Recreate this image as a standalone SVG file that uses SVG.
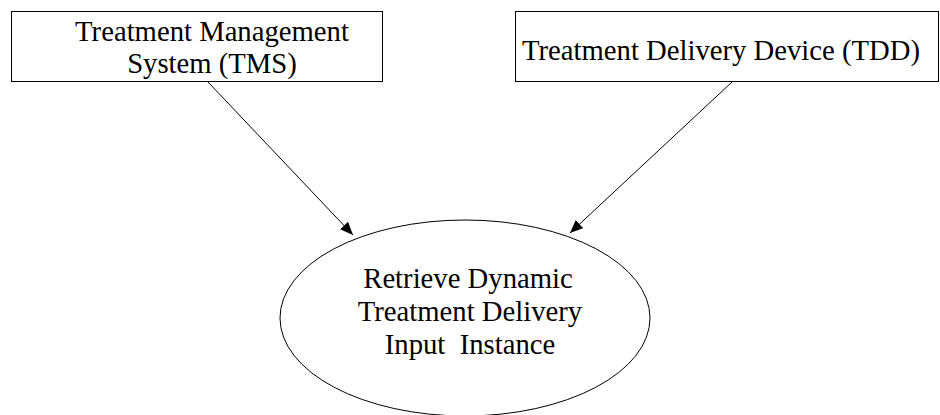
<svg xmlns="http://www.w3.org/2000/svg" width="940" height="415" viewBox="0 0 940 415">
<defs>
<style>
.box{fill:#fff;stroke:#000;stroke-width:1}
.t{font-family:"Liberation Serif","Times New Roman",serif;font-size:28.7px;fill:#000;white-space:pre}
.c{fill:none;stroke:#000;stroke-width:1}
</style>
<marker id="ah" viewBox="0 0 13 11" refX="13" refY="5.5" markerWidth="13" markerHeight="11" markerUnits="userSpaceOnUse" orient="auto">
<path d="M0,0 L13,5.5 L0,11 z" fill="#000"/>
</marker>
</defs>
<rect width="940" height="415" fill="#fff"/>
<g id="tms">
<rect class="box" x="11.5" y="11.5" width="371" height="70"/>
<text class="t" x="212" y="41" text-anchor="middle">Treatment Management</text>
<text class="t" x="212" y="73" text-anchor="middle">System (TMS)</text>
</g>
<g id="tdd">
<rect class="box" x="515.5" y="11.5" width="423" height="70"/>
<text class="t" x="522" y="60">Treatment Delivery Device (TDD)</text>
</g>
<g id="retrieve">
<ellipse class="box" cx="465" cy="318" rx="185" ry="98"/>
<text class="t" x="468" y="288" text-anchor="middle">Retrieve Dynamic</text>
<text class="t" x="470" y="321" text-anchor="middle">Treatment Delivery</text>
<text class="t" x="470" y="354" text-anchor="middle">Input  Instance</text>
</g>
<g id="connectors">
<line class="c" x1="208" y1="82" x2="353" y2="235" marker-end="url(#ah)"/>
<line class="c" x1="732" y1="82" x2="570" y2="233" marker-end="url(#ah)"/>
</g>
</svg>
